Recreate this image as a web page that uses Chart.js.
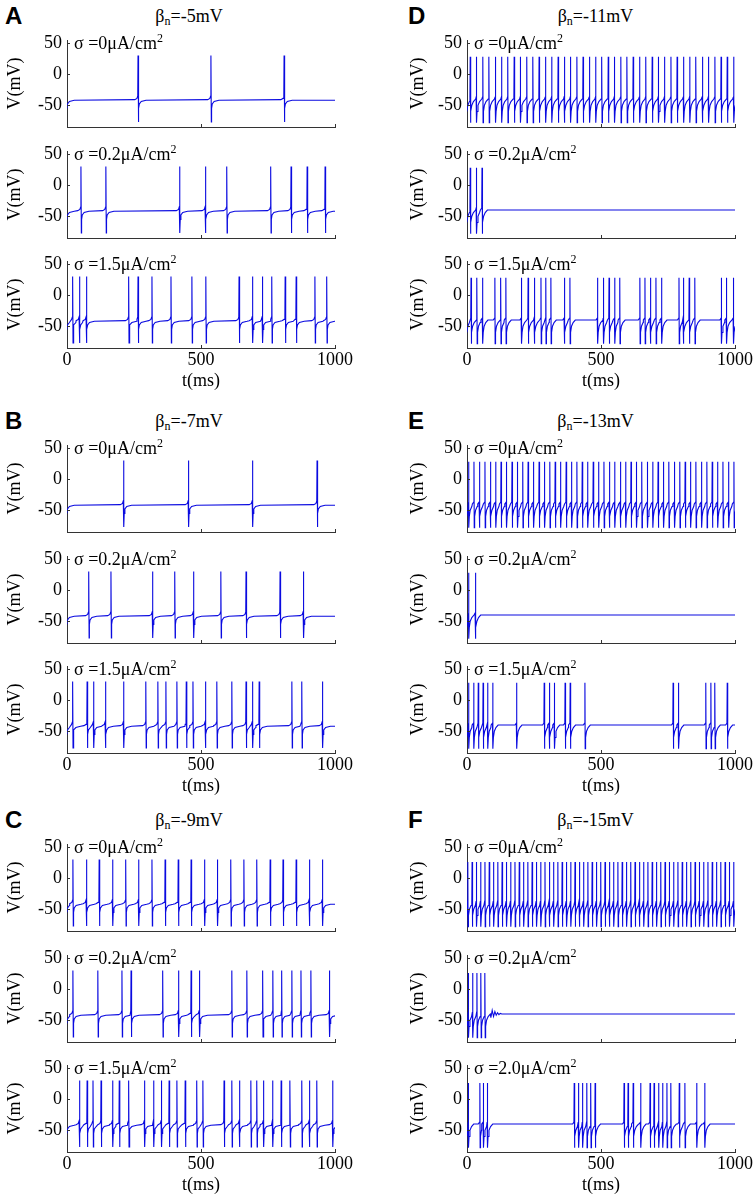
<!DOCTYPE html>
<html>
<head>
<meta charset="utf-8">
<script src="https://cdn.jsdelivr.net/npm/chart.js@4.4.0/dist/chart.umd.min.js"></script>
<style>
body { margin: 0; background: #fff; }
#fig { position: relative; width: 756px; height: 1198px; overflow: hidden; color: #000;
       font-family: 'Liberation Serif', 'Times New Roman', serif; }
#fig canvas { position: absolute; }
.letter { position: absolute; font: bold 24px 'Liberation Sans', Arial, sans-serif; line-height: 24px; }
.ttl { position: absolute; font-size: 18px; line-height: 18px; white-space: nowrap; transform: translateX(-50%); }
.ttl sub { font-size: 12px; vertical-align: -3px; line-height: 0; }
.sig { position: absolute; font-size: 18px; line-height: 18px; white-space: nowrap; z-index: 2; }
.sig sup { font-size: 12px; vertical-align: 7px; line-height: 0; }
</style>
</head>
<body>
<div id="fig"></div>
<script>
var blockLetters = ['A', 'B', 'C', 'D', 'E', 'F'];
var betaValues = ['-5mV', '-7mV', '-9mV', '-11mV', '-13mV', '-15mV'];
var sigmaValues = [
  ['0', '0.2', '1.5'], ['0', '0.2', '1.5'], ['0', '0.2', '1.5'],
  ['0', '0.2', '1.5'], ['0', '0.2', '1.5'], ['0', '0.2', '2.0']
];
var xTicks = [0, 500, 1000];
var yTicks = [-50, 0, 50];

// spike peak (mV) and resting level (mV) per block
var spikeMax = [30, 30, 30, 28, 28, 26];
var restV = [-42, -42, -42, -40, -40, -40];

// spike shape around each spike time (ms from spike, mV); null = peak
var slowShapeT = [-12, -4, -1, 0, 1.5, 2.5, 5, 12, 30];
var slowShapeV = [-41, -39, -35, null, -77, -55, -48, -44, -42];
var fastShapeT = [-6, -1, 0, 1, 2.5, 6, 12, 20];
var fastShapeV = [-40, -37, null, -78, -60, -50, -44, -40];

// spike times (ms)
var spikesA1 = [265, 537, 810];
var spikesA2 = [52, 145, 420, 516, 596, 760, 836, 896, 963];
var spikesA3 = [21, 46, 72, 230, 265, 317, 388, 466, 518, 642, 692, 729, 764, 814, 855, 925, 969];
var spikesB1 = [211, 453, 692, 933];
var spikesB2 = [81, 164, 319, 402, 472, 574, 668, 795, 882];
var spikesB3 = [21, 75, 99, 143, 211, 294, 339, 369, 410, 445, 470, 516, 559, 615, 668, 692, 717, 839, 876, 953];
var spikesC1 = [22, 72, 120, 170, 219, 267, 317, 366, 415, 463, 513, 561, 611, 660, 708, 758, 806, 855, 904, 953];
var spikesC2 = [22, 115, 205, 239, 357, 416, 463, 494, 615, 671, 730, 768, 801, 839, 873, 910, 979];
var spikesC3 = [46, 75, 97, 127, 170, 195, 230, 289, 323, 352, 381, 410, 441, 484, 507, 586, 615, 643, 686, 708,
                733, 767, 799, 832, 876, 904, 932, 991];
var spikesD1 = [12, 35, 59, 82, 106, 129, 152, 176, 199, 223, 246, 269, 293, 316, 340, 363, 386, 410, 433, 457,
                480, 503, 527, 550, 574, 597, 620, 644, 667, 691, 714, 737, 761, 784, 808, 831, 854, 878, 901, 925,
                948, 971, 995];
var spikesD2 = [12, 35, 56];
var spikesD3 = [15, 37, 58, 104, 126, 145, 203, 228, 251, 276, 294, 313, 363, 384, 487, 509, 530, 551, 570, 645,
                664, 684, 705, 726, 791, 807, 829, 850, 949, 968, 994];
var spikesE1 = [6, 26, 46, 67, 87, 107, 127, 147, 168, 188, 208, 228, 248, 269, 289, 309, 329, 349, 370, 390,
                410, 430, 450, 471, 491, 511, 531, 551, 572, 592, 612, 632, 652, 673, 693, 713, 733, 753, 774, 794,
                814, 834, 854, 875, 895, 915, 935, 955, 976, 996];
var spikesE2 = [6, 31];
var spikesE3 = [6, 25, 42, 60, 77, 96, 185, 288, 307, 326, 366, 385, 440, 769, 789, 891, 910, 925, 971];
var spikesF1 = [3, 19, 35, 51, 67, 83, 99, 115, 131, 147, 163, 179, 195, 211, 227, 243, 259, 275, 291, 307,
                323, 339, 355, 371, 387, 403, 419, 435, 451, 467, 483, 499, 515, 531, 547, 563, 579, 595, 611, 627,
                643, 659, 675, 691, 707, 723, 739, 755, 771, 787, 803, 819, 835, 851, 867, 883, 899, 915, 931, 947,
                963, 979, 995];
var spikesF2 = [5, 21, 37, 52, 67];
var spikesF3 = [5, 48, 61, 76, 400, 416, 431, 447, 462, 478, 586, 601, 620, 648, 683, 698, 715, 730, 746, 761,
                792, 813, 857, 887];

// damped ringing after the burst in F (sigma = 0.2)
var tailF2T = [84, 89, 94, 99, 104, 109, 114, 119, 124, 130];
var tailF2V = [-32, -46, -34, -44, -36, -42, -38, -41, -39, -40];

var spikeTrains = [
  [spikesA1, spikesA2, spikesA3], [spikesB1, spikesB2, spikesB3], [spikesC1, spikesC2, spikesC3],
  [spikesD1, spikesD2, spikesD3], [spikesE1, spikesE2, spikesE3], [spikesF1, spikesF2, spikesF3]
];

// layout
var blockTop = [0, 405, 804];
var subBottom = [127, 237.5, 347.5];
var plotH = 87, plotW = 268;
var canvasLeft = [0, 403], yAxisW = [67, 64];
var padT = 12, padR = 24;
var lineColor = '#0a0ae0', axisColor = '#333';
var serif = "'Liberation Serif', 'Times New Roman', serif";
var tickFont = { family: serif, size: 18 };

function buildTrace(spikes, b, tailT, tailV) {
  var fast = b >= 3;
  var sT = fast ? fastShapeT : slowShapeT, sV = fast ? fastShapeV : slowShapeV;
  var times = [-3].concat(spikes);
  var pts = [], lastT = -1e9;
  times.forEach(function (s, i) {
    var next = i + 1 < times.length ? times[i + 1] : Infinity;
    sT.forEach(function (dt, j) {
      if (i === 0 && dt <= 0) return;
      var t = s + dt;
      if (t <= lastT || t >= next - 1) return;
      pts.push({ x: t, y: sV[j] === null ? spikeMax[b] : sV[j] });
      lastT = t;
    });
  });
  if (tailT) {
    tailT.forEach(function (t, k) {
      if (t > lastT) { pts.push({ x: t, y: tailV[k] }); lastT = t; }
    });
  }
  pts.push({ x: Math.max(lastT + 20, 1040), y: restV[b] });
  return pts;
}

var inwardTicks = {
  id: 'inwardTicks',
  afterDraw: function (chart) {
    var ctx = chart.ctx, a = chart.chartArea, x = chart.scales.x, y = chart.scales.y;
    ctx.save();
    ctx.strokeStyle = axisColor;
    ctx.lineWidth = 1;
    ctx.beginPath();
    xTicks.forEach(function (v) {
      var px = Math.round(x.getPixelForValue(v)) + 0.5;
      ctx.moveTo(px, a.bottom);
      ctx.lineTo(px, a.bottom - 3);
    });
    yTicks.forEach(function (v) {
      var py = Math.round(y.getPixelForValue(v)) + 0.5;
      ctx.moveTo(a.left, py);
      ctx.lineTo(a.left + 3, py);
    });
    ctx.stroke();
    ctx.restore();
  }
};

var fig = document.getElementById('fig');

function addText(cls, html, left, top) {
  var d = document.createElement('div');
  d.className = cls;
  d.innerHTML = html;
  d.style.left = left + 'px';
  d.style.top = top + 'px';
  fig.appendChild(d);
}

function plainNumber(v) { return String(v); }

function makePanel(b, r) {
  var col = b < 3 ? 0 : 1, row = b % 3;
  var bottom = blockTop[row] + subBottom[r];
  var last = r === 2;
  var xH = last ? 44 : 4;
  var w = yAxisW[col] + plotW + padR, h = padT + plotH + xH;
  var cv = document.createElement('canvas');
  cv.width = w; cv.height = h;
  cv.style.width = w + 'px'; cv.style.height = h + 'px';
  cv.style.left = canvasLeft[col] + 'px';
  cv.style.top = (bottom - plotH - padT) + 'px';
  fig.appendChild(cv);

  var pts = buildTrace(spikeTrains[b][r], b,
    b === 5 && r === 1 ? tailF2T : null, b === 5 && r === 1 ? tailF2V : null);

  new Chart(cv, {
    type: 'line',
    data: {
      datasets: [{
        data: pts, borderColor: lineColor, borderWidth: 1.1,
        pointRadius: 0, tension: 0, fill: false
      }]
    },
    options: {
      responsive: false,
      animation: false,
      events: [],
      layout: { padding: { top: padT, right: padR, left: 0, bottom: 0 } },
      plugins: { legend: { display: false }, tooltip: { enabled: false } },
      scales: {
        x: {
          type: 'linear', min: 0, max: 1000,
          afterBuildTicks: function (s) { s.ticks = xTicks.map(function (v) { return { value: v }; }); },
          afterFit: function (s) {
            s.height = xH;
            s.paddingLeft = s.paddingRight = s.paddingTop = s.paddingBottom = 0;
          },
          grid: { display: false, drawTicks: false },
          border: { display: true, color: axisColor, width: 1 },
          ticks: { display: last, padding: 1, color: '#000', font: tickFont, maxRotation: 0, autoSkip: false,
                   callback: plainNumber },
          title: { display: last, text: 't(ms)', color: '#000', font: tickFont, padding: 0 }
        },
        y: {
          type: 'linear', min: -85, max: 55,
          afterBuildTicks: function (s) { s.ticks = yTicks.map(function (v) { return { value: v }; }); },
          afterFit: function (s) {
            s.width = yAxisW[col];
            s.paddingLeft = s.paddingRight = s.paddingTop = s.paddingBottom = 0;
          },
          grid: { display: false, drawTicks: false },
          border: { display: true, color: axisColor, width: 1 },
          ticks: { padding: 5, color: '#000', font: tickFont, callback: plainNumber },
          title: { display: true, text: 'V(mV)', color: '#000', font: tickFont, padding: { top: 4, bottom: 0 } }
        }
      }
    },
    plugins: [inwardTicks]
  });

  var plotLeft = canvasLeft[col] + yAxisW[col];
  addText('sig', 'σ =' + sigmaValues[b][r] + 'μA/cm<sup>2</sup>', plotLeft + 7, bottom - plotH - 6);
}

var letterLeft = [5, 408], titleCenter = [189, 595.5];
for (var b = 0; b < 6; b++) {
  var col = b < 3 ? 0 : 1, row = b % 3;
  addText('letter', blockLetters[b], letterLeft[col], blockTop[row] + 4);
  addText('ttl', 'β<sub>n</sub>=' + betaValues[b], titleCenter[col], blockTop[row] + 6.5);
  for (var r = 0; r < 3; r++) makePanel(b, r);
}
</script>
</body>
</html>
